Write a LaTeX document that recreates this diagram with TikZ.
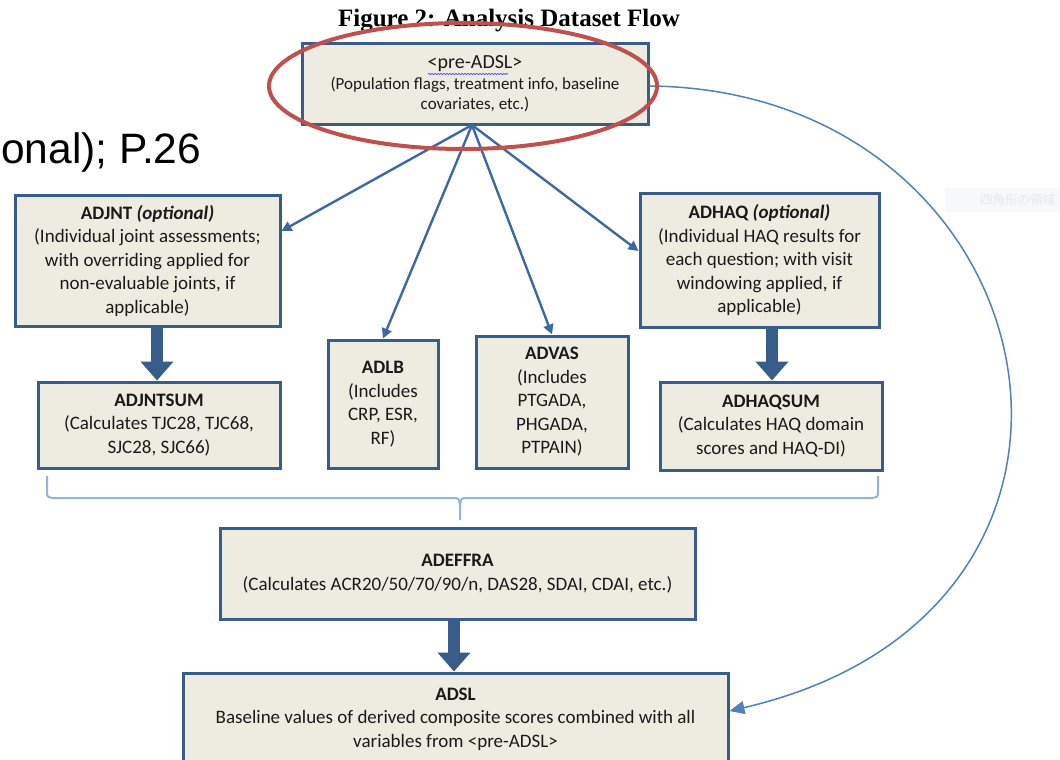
\documentclass[tikz,border=0pt]{standalone}
\usepackage{fontspec}
\setmainfont{Carlito}
\newfontfamily\titlefont{Liberation Serif}
\newfontfamily\slidefont{Liberation Sans}
\newfontfamily\jpfont{Noto Sans CJK JP}
\usetikzlibrary{arrows.meta,decorations.pathmorphing,calc}
\definecolor{boxline}{HTML}{385D8A}
\definecolor{boxfill}{HTML}{EEECE1}
\definecolor{fanblue}{HTML}{3E68A3}
\definecolor{curveblue}{HTML}{4F81BD}
\definecolor{braceblue}{HTML}{95B3D7}
\definecolor{ringred}{HTML}{C0504D}
\definecolor{txt}{HTML}{1A1A1A}
\definecolor{faintfill}{HTML}{F6F8FB}
\tikzset{
  dsbox/.style={draw=boxline, fill=boxfill, line width=3pt, rectangle, inner sep=0pt,
    align=center, text=txt, font=\fontsize{19}{23.5}\selectfont},
  smallbox/.style={dsbox, font=\fontsize{17}{20.5}\selectfont},
  fan/.style={draw=fanblue, line width=2.4pt, -{Triangle[length=10pt,width=10pt]}},
  fatarrow/.style={draw=boxline, line width=12pt, -{Triangle[length=19pt,width=32pt]}},
  loopback/.style={draw=curveblue, line width=1.5pt, -{Triangle[length=15pt,width=13pt]}},
  bracepath/.style={draw=braceblue, line width=2pt},
}
\begin{document}
\begin{tikzpicture}[x=1pt,y=-1pt]
\useasboundingbox (0,0) rectangle (1060,760);
\clip (0,0) rectangle (1060,760);
\fill[white] (0,0) rectangle (1060,760);

% title and slide text
\node[anchor=base, inner sep=0pt, font=\titlefont\bfseries\fontsize{25}{27}\selectfont] (title) at (509,27) {Figure 2: Analysis Dataset Flow};
\node[anchor=base west, inner sep=0pt, font=\slidefont\fontsize{42.5}{46}\selectfont] (slide) at (1,163) {onal); P.26};

% faint leftover text box
\fill[faintfill] (945,188) rectangle (1060,212);
\node[anchor=west, inner sep=0pt, text=black!9, font=\jpfont\fontsize{12.5}{14}\selectfont] (jp) at (980,200) {四角形の領域};

% boxes
\node[smallbox, minimum width=346, minimum height=80] (pre) at (475,84)
  {\fontsize{20}{20.5}\selectfont <pre-ADSL>\\(Population flags, treatment info, baseline\\covariates, etc.)};
\node[dsbox, minimum width=265, minimum height=131] (adjnt) at (147.5,260.5)
  {\textbf{ADJNT \textit{(optional)}}\\(Individual joint assessments;\\with overriding applied for\\non-evaluable joints, if\\applicable)};
\node[dsbox, minimum width=242, minimum height=86] (adjntsum) at (159,425)
  {\textbf{ADJNTSUM}\\(Calculates TJC28, TJC68,\\SJC28, SJC66)};
\node[dsbox, minimum width=110, minimum height=128] (adlb) at (383,404)
  {\textbf{ADLB}\\(Includes\\CRP, ESR,\\RF)};
\node[dsbox, minimum width=152, minimum height=132] (advas) at (552,402)
  {\textbf{ADVAS}\\(Includes\\PTGADA,\\PHGADA,\\PTPAIN)};
\node[dsbox, minimum width=239, minimum height=134] (adhaq) at (759.5,260)
  {\textbf{ADHAQ \textit{(optional)}}\\(Individual HAQ results for\\each question; with visit\\windowing applied, if\\applicable)};
\node[dsbox, minimum width=222, minimum height=88] (adhaqsum) at (771,426)
  {\textbf{ADHAQSUM}\\(Calculates HAQ domain\\scores and HAQ-DI)};
\node[dsbox, minimum width=475, minimum height=91] (adeffra) at (457.5,573.5)
  {\textbf{ADEFFRA}\\(Calculates ACR20/50/70/90/n, DAS28, SDAI, CDAI, etc.)};
\node[dsbox, minimum width=545, minimum height=130] (adsl) at (455.5,738) {};
\node[align=center, inner sep=0pt, text=txt, font=\fontsize{19}{23.5}\selectfont] (adsltext) at (455.5,719)
  {\textbf{ADSL}\\Baseline values of derived composite scores combined with all\\variables from <pre-ADSL>};

% spell-check underline
\draw[decorate, decoration={snake, amplitude=0.6pt, segment length=3pt}, draw=blue!80, line width=0.6pt] (428,74) -- (508,74);

% fan connectors
\coordinate (fanorigin) at (472,125);
\draw[fan] (fanorigin) -- (adjnt.east |- 0,231);
\draw[fan] (fanorigin) -- (adlb.north);
\draw[fan] (fanorigin) -- (advas.north);
\draw[fan] (fanorigin) -- (adhaq.west |- 0,251);

% fat arrows
\draw[fatarrow] (adjnt.south -| 157,0) -- (adjntsum.north -| 157,0);
\draw[fatarrow] (adhaq.south -| 772,0) -- (adhaqsum.north -| 772,0);
\draw[fatarrow] (adeffra.south -| 454,0) -- (adsl.north -| 454,0);

% brace
\coordinate (bracetip) at (460,520);
\draw[bracepath] (47,476) -- (47,491) .. controls (47,497) .. (53,498) -- (452,498)
  .. controls (459,498) .. (460,506) -- (bracetip);
\draw[bracepath] (460,506) .. controls (461,498) .. (468,498) -- (872,498)
  .. controls (878,497) .. (878,491) -- (878,476);

% loop-back curve
\draw[loopback] (pre.east |- 0,86) .. controls (1055,90) and (1165,610) .. (adsl.east |- 0,711);

% red ring
\draw[ringred, line width=4pt] (463,86) ellipse [x radius=194, y radius=63];
\end{tikzpicture}
\end{document}
